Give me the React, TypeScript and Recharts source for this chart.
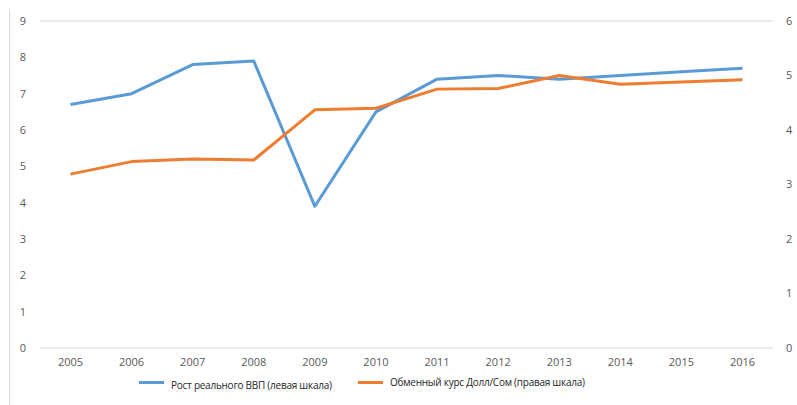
import React from 'react';
import { LineChart, Line, XAxis, YAxis, CartesianGrid } from 'recharts';

const years = ['2005', '2006', '2007', '2008', '2009', '2010', '2011', '2012', '2013', '2014', '2015', '2016'];
const gdpGrowth = [6.7, 7.0, 7.8, 7.9, 3.9, 6.5, 7.4, 7.5, 7.4, 7.5, 7.6, 7.7];
const exchangeRate = [3.19, 3.42, 3.47, 3.45, 4.37, 4.4, 4.75, 4.76, 5.0, 4.84, 4.88, 4.92];
const leftTicks = [0, 1, 2, 3, 4, 5, 6, 7, 8, 9];
const rightTicks = [0, 1, 2, 3, 4, 5, 6];
const gdpName = 'Рост реального ВВП (левая шкала)';
const rateName = 'Обменный курс Долл/Сом (правая шкала)';
const gdpColor = '#5B9BD5';
const rateColor = '#ED7D31';

const data = years.map((y, i) => ({ year: y, gdp: gdpGrowth[i], rate: exchangeRate[i] }));

const FONT = '"Open Sans", "Noto Sans", sans-serif';
const tickStyle = { fill: '#595959', fontSize: 11, fontFamily: FONT };

const legendItems = [
  { name: gdpName, color: gdpColor, left: 139, top: 3 },
  { name: rateName, color: rateColor, left: 358, top: 0 },
];

export default function App() {
  return (
    <div style={{ position: 'absolute', left: 0, top: 0, width: 797, height: 405, background: '#fff' }}>
      <div style={{ position: 'absolute', left: 9, top: 9, width: 1, height: 396, background: '#d9d9d9' }} />
      <LineChart width={797} height={405} data={data} margin={{ top: 21, right: 0, bottom: 27, left: 10 }}>
        <CartesianGrid vertical={false} stroke="#d9d9d9" strokeWidth={1} />
        <XAxis
          dataKey="year"
          height={30}
          axisLine={false}
          tickLine={false}
          tickSize={0}
          tickMargin={10}
          tick={tickStyle}
          padding={{ left: 30.5, right: 30.5 }}
          interval={0}
        />
        <YAxis
          yAxisId="left"
          domain={[0, 9]}
          ticks={leftTicks}
          width={30}
          axisLine={false}
          tickLine={false}
          tickSize={0}
          tickMargin={14}
          tick={tickStyle}
        />
        <YAxis
          yAxisId="right"
          orientation="right"
          domain={[0, 6]}
          ticks={rightTicks}
          width={24}
          axisLine={false}
          tickLine={false}
          tickSize={0}
          tickMargin={13}
          tick={tickStyle}
        />
        <Line
          yAxisId="left"
          type="linear"
          dataKey="gdp"
          name={gdpName}
          stroke={gdpColor}
          strokeWidth={3}
          dot={false}
          activeDot={false}
          isAnimationActive={false}
          strokeLinejoin="round"
        />
        <Line
          yAxisId="right"
          type="linear"
          dataKey="rate"
          name={rateName}
          stroke={rateColor}
          strokeWidth={3}
          dot={false}
          activeDot={false}
          isAnimationActive={false}
          strokeLinejoin="round"
        />
      </LineChart>
      {legendItems.map((it, i) => (
        <div
          key={i}
          style={{
            position: 'absolute',
            left: it.left,
            top: 374,
            height: 16,
            display: 'flex',
            alignItems: 'center',
            fontFamily: FONT,
            fontSize: 10,
            letterSpacing: -0.25,
            color: '#262626',
          }}
        >
          <div style={{ width: 25, height: 3, background: it.color, marginRight: 7 }} />
          <span style={{ whiteSpace: 'nowrap', position: 'relative', top: it.top }}>{it.name}</span>
        </div>
      ))}
    </div>
  );
}
